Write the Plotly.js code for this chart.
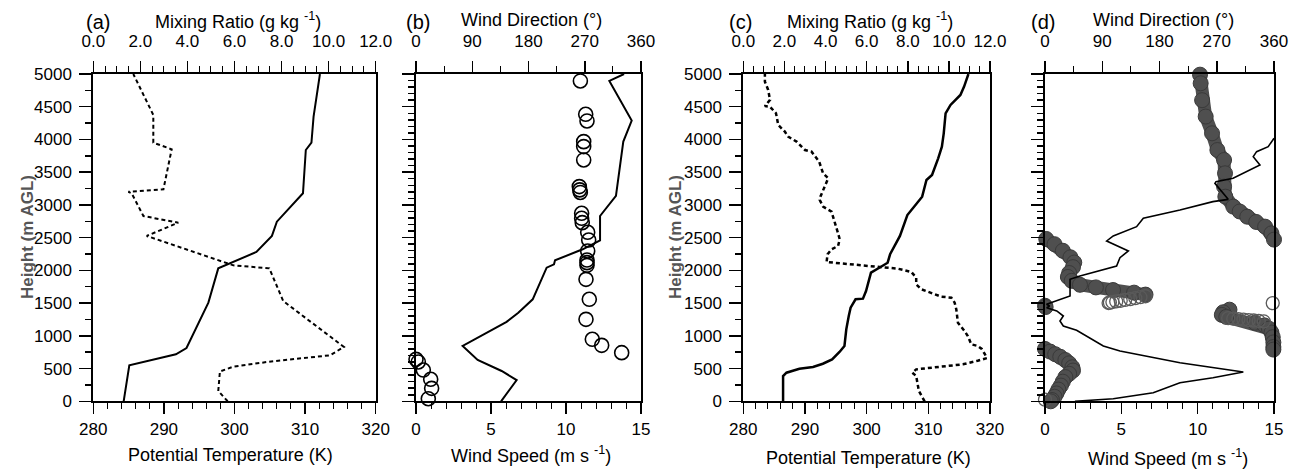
<!DOCTYPE html>
<html>
<head>
<meta charset="utf-8">
<script src="https://cdn.plot.ly/plotly-3.0.1.min.js"></script>
<style>html,body{margin:0;padding:0;background:#fff;}#chart{width:1299px;height:472px;}</style>
</head>
<body>
<div id="chart"></div>
<script>
// ---------- Panel (a) ----------
const thetaA_h = [0,131,550,718,814,1507,2031,2281,2526,2744,2846,3178,3839,3951,4348,5000];
const thetaA   = [284.3,284.5,285.1,291.7,293.2,296.3,297.7,303.1,305.3,306.0,306.9,309.7,310.1,310.9,311.2,312.1];
const qA_h = [0,157,455,529,600,703,830,1532,2031,2077,2526,2729,2830,3178,3200,3239,3850,3951,4374,5000];
const qA   = [5.71,5.31,5.38,5.95,7.37,10.06,10.65,8.07,7.48,5.95,2.27,3.61,2.13,1.63,1.49,2.98,3.33,2.55,2.55,1.70];

// ---------- Panel (b) ----------
const spdB_h = [0,325,463,631,845,1213,1354,1558,2041,2093,2154,2322,2460,2831,3137,3967,4288,4894,5000];
const spdB   = [5.67,6.71,5.71,4.11,3.11,6.04,6.82,7.78,8.71,9.2,9.27,11.11,12.27,12.27,13.33,13.82,14.38,12.89,13.87];
const dirB_h = [4894,4385,4283,3967,3891,3687,3280,3230,3190,2872,2796,2729,2582,2464,2296,2158,2118,2077,1863,1558,1252,947,855,743,641,601,478,336,198,40];
const dirB   = [263,271.5,273.6,268.3,268.3,268.3,261.3,262,262.9,265,265,266,274.7,276.3,274.7,273.6,273.6,273.6,272,277.3,272,282.1,297.1,329.1,0,3.7,11.7,23.5,25,19.7];

// ---------- Panel (c) ----------
const thetaC_h = [0,386,437,498,524,574,641,753,845,1100,1303,1430,1558,1568,1685,1965,2041,2117,2246,2373,2526,2846,3126,3381,3457,3712,3890,4094,4400,4527,4680,4807,5000];
const thetaC   = [286.45,286.45,287.0,289.1,291.3,292.9,294.4,295.6,296.4,296.7,297.1,297.4,298.2,299.4,299.9,300.7,302.05,303.4,303.8,304.5,305.4,306.6,309.0,309.7,310.6,311.6,312.2,312.5,312.8,313.6,315.2,315.8,316.5];
const qC_h = [0,157,386,437,488,498,565,620,660,720,800,845,870,998,1074,1201,1405,1507,1583,1598,1634,1711,1787,1889,1976,2026,2056,2093,2128,2246,2322,2373,2475,2566,2898,2974,3075,3126,3407,3483,3661,3814,3839,3967,4043,4120,4221,4400,4500,4510,4604,4756,4883,5000];
const qC   = [8.82,8.54,8.41,8.22,8.41,8.74,10.68,11.4,11.85,11.75,11.6,11.41,11.09,10.92,10.76,10.44,10.36,10.28,10.12,9.63,9.35,8.66,8.41,8.41,8.17,7.52,6.47,5.18,4.05,4.10,4.29,4.61,4.69,4.61,4.29,3.88,3.72,3.75,4.13,3.88,3.69,3.32,3.0,2.59,2.18,2.02,1.70,1.59,1.30,1.05,1.30,1.21,1.05,1.05];

// ---------- Panel (d) ----------
const spdD_h = [0,40,131,284,360,448,590,692,768,845,998,1086,1150,1227,1303,1380,1430,1456,1482,1609,1864,1914,2067,2194,2296,2383,2449,2526,2668,2796,2923,3050,3085,3330,3355,3407,3508,3610,3737,3814,3890,4018];
const spdD   = [1.96,4.47,7.09,8.84,11.0,12.99,8.84,6.66,4.91,3.82,2.73,2.07,1.2,0.98,1.2,0.77,0.11,0.3,0.1,1.64,1.64,2.29,4.69,4.91,5.46,4.69,4.04,4.47,6.0,6.44,8.84,11.0,12.0,11.13,11.2,12.32,13.2,14.08,13.64,13.86,14.62,15.0];
// filled direction band, segments separated by null
const dirD_h = [4990,4858,4600,4350,4094,3839,3686,3483,3280,3126,2974,2900,2820,2740,2668,2566,2470,null,
                2480,2400,2300,2200,2120,2050,1960,1900,1840,1780,1740,1700,1660,1630,null,
                1460,1440,null,
                1400,1360,1320,1290,1200,1160,1110,1050,980,900,830,790,null,
                800,760,720,680,630,580,520,470,420,370,300,240,180,120,70,20,0];
const dirD   = [243.7,244.7,247,252.6,262.6,271,281.5,283,281.5,283.5,296,306,318,332,346,356,360,null,
                2,15,28,40,46,44,38,36,42,55,80,107,140,158,null,
                0,1,null,
                290,280,278,285,330,345,352,356,358,359,359,359,null,
                0,8,16,24,32,38,43,44,38,32,28,25,21,18,15,11,9];
// open direction circles
const openD_h = [1605,1590,1575,1560,1548,1536,1525,1516,1508,1502,1270,1262,1255,1248,1241,1234,1227,1220,1500,25];
const openD   = [158,150,142,134,126,119,112,106,102,100,288,296,304,312,320,328,336,344,358,0];

// tick labels
const topTicksQ = [0,2,4,6,8,10,12];
const topTicksQText = ['0.0','2.0','4.0','6.0','8.0','10.0','12.0'];

const W = 1299, H = 472;
const px = x => x / W;
const py = y => 1 - y / H;
const FONT = 'Liberation Sans, Arial, sans-serif';
const yDom = [py(401.3), py(74)];

function baseX(dom, range, dtick, minor, anchor, extra) {
  return Object.assign({
    domain: dom, range: range, anchor: anchor, side: 'bottom',
    showline: true, linewidth: 2, linecolor: '#000',
    ticks: 'outside', ticklen: 11, tickwidth: 1.5, tickcolor: '#000', dtick: dtick, tick0: range[0],
    minor: {dtick: minor, ticks: 'outside', ticklen: 6, tickwidth: 1, tickcolor: '#000', showgrid: false},
    showgrid: false, zeroline: false, ticklabelstandoff: 0,
    tickfont: {family: FONT, size: 17, color: '#000'}
  }, extra || {});
}
function topX(over, anchor, range, dtick, minor, extra) {
  return Object.assign({
    overlaying: over, anchor: anchor, side: 'top', range: range,
    showline: true, linewidth: 2, linecolor: '#000',
    ticks: 'outside', ticklen: 11, tickwidth: 1.5, tickcolor: '#000', dtick: dtick, tick0: range[0],
    minor: {dtick: minor, ticks: 'outside', ticklen: 6, tickwidth: 1, tickcolor: '#000', showgrid: false},
    showgrid: false, zeroline: false, ticklabelstandoff: 7,
    tickfont: {family: FONT, size: 17, color: '#000'}
  }, extra || {});
}
function yAx(anchor, labels, minor) {
  return {
    domain: yDom, range: [0, 5000], anchor: anchor,
    showline: true, mirror: true, linewidth: 2, linecolor: '#000',
    ticks: 'outside', ticklen: 12, tickwidth: 1.5, tickcolor: '#000', dtick: 500, tick0: 0,
    minor: {dtick: minor, ticks: 'outside', ticklen: 6, tickwidth: 1.5, tickcolor: '#000', showgrid: false},
    showticklabels: labels, showgrid: false, zeroline: false, ticklabelstandoff: 4,
    tickfont: {family: FONT, size: 17, color: '#000'}
  };
}

const traces = [
  // (a)
  {x: thetaA, y: thetaA_h, xaxis: 'x', yaxis: 'y', mode: 'lines', line: {color: '#000', width: 2}},
  {x: qA, y: qA_h, xaxis: 'x2', yaxis: 'y', mode: 'lines', line: {color: '#000', width: 2, dash: '4px,3px'}},
  // (b)
  {x: spdB, y: spdB_h, xaxis: 'x3', yaxis: 'y2', mode: 'lines', line: {color: '#000', width: 2}},
  {x: dirB, y: dirB_h, xaxis: 'x4', yaxis: 'y2', mode: 'markers', cliponaxis: false,
   marker: {symbol: 'circle-open', size: 14, color: '#000', line: {width: 1.6, color: '#000'}}},
  // (c)
  {x: thetaC, y: thetaC_h, xaxis: 'x5', yaxis: 'y3', mode: 'lines', line: {color: '#000', width: 2.5}},
  {x: qC, y: qC_h, xaxis: 'x6', yaxis: 'y3', mode: 'lines', line: {color: '#000', width: 2.5, dash: '4px,3px'}},
  // (d) direction on base axis (drawn below), speed on overlay axis (drawn on top)
  {x: dirD, y: dirD_h, xaxis: 'x7', yaxis: 'y4', mode: 'lines+markers', cliponaxis: false, connectgaps: false,
   line: {color: '#4f4f4f', width: 13},
   marker: {symbol: 'circle', size: 15, color: '#4f4f4f', line: {width: 1, color: '#3a3a3a'}}},
  {x: openD, y: openD_h, xaxis: 'x7', yaxis: 'y4', mode: 'markers', cliponaxis: false,
   marker: {symbol: 'circle-open', size: 13, color: '#5a5a5a', line: {width: 1.3, color: '#5a5a5a'}}},
  {x: spdD, y: spdD_h, xaxis: 'x8', yaxis: 'y4', mode: 'lines', line: {color: '#000', width: 1.6}}
];

const layout = {
  width: W, height: H, margin: {l: 0, r: 0, t: 0, b: 0},
  paper_bgcolor: '#fff', plot_bgcolor: 'rgba(0,0,0,0)', showlegend: false,
  font: {family: FONT, size: 16, color: '#000'},
  xaxis: baseX([px(93.3), px(375.7)], [280, 320], 10, 2, 'y'),
  xaxis2: topX('x', 'y', [0, 12], 2, 0.5, {tickvals: topTicksQ, ticktext: topTicksQText}),
  yaxis: yAx('x', true, 250),
  xaxis3: baseX([px(416), px(641)], [0, 15], 5, 1, 'y2'),
  xaxis4: topX('x3', 'y2', [0, 360], 90, 45),
  yaxis2: yAx('x3', false, 100),
  xaxis5: baseX([px(743.3), px(990)], [280, 320], 10, 2, 'y3'),
  xaxis6: topX('x5', 'y3', [0, 12], 2, 0.5, {tickvals: topTicksQ, ticktext: topTicksQText}),
  yaxis3: yAx('x5', true, 250),
  xaxis7: topX(undefined, 'y4', [0, 360], 90, 45, {domain: [px(1045), px(1274)]}),
  xaxis8: baseX(undefined, [0, 15], 5, 1, 'y4', {overlaying: 'x7'}),
  yaxis4: yAx('x7', false, 100),
  annotations: []
};
delete layout.xaxis7.overlaying;
delete layout.xaxis8.domain;

function ann(text, x, y, size, extra) {
  layout.annotations.push(Object.assign({
    text: text, x: px(x), y: py(y), xref: 'paper', yref: 'paper',
    xanchor: 'center', yanchor: 'middle', showarrow: false,
    font: {family: FONT, size: size, color: '#000'}
  }, extra || {}));
}
ann('(a)', 98, 22, 20);
ann('Mixing Ratio (g kg <sup>-1</sup>)', 238, 20, 18);
ann('(b)', 418, 22, 20);
ann('Wind Direction (°)', 531, 20, 18);
ann('(c)', 741, 22, 20);
ann('Mixing Ratio (g kg <sup>-1</sup>)', 870, 20, 18);
ann('(d)', 1043, 22, 20);
ann('Wind Direction (°)', 1163, 20, 18);
ann('Potential Temperature (K)', 230, 455, 18);
ann('Wind Speed (m s <sup>-1</sup>)', 531, 454, 18);
ann('Potential Temperature (K)', 868, 458, 18);
ann('Wind Speed (m s <sup>-1</sup>)', 1168, 457, 18);
ann('<b>Height (m AGL)</b>', 27, 237, 17, {textangle: -90, font: {family: FONT, size: 17, color: '#555'}});
ann('<b>Height (m AGL)</b>', 675, 237, 17, {textangle: -90, font: {family: FONT, size: 17, color: '#555'}});

Plotly.newPlot('chart', traces, layout, {staticPlot: true});
</script>
</body>
</html>
